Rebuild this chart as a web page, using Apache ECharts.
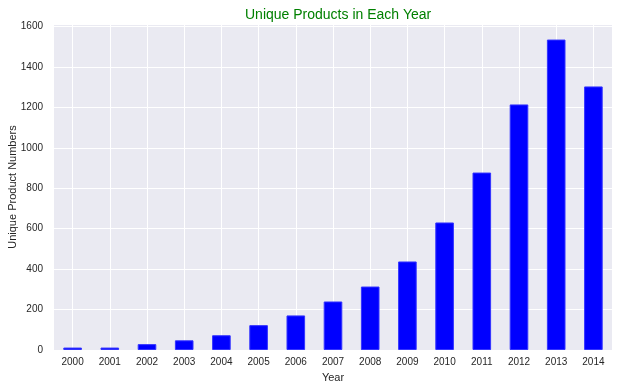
<!DOCTYPE html>
<html><head><meta charset="utf-8">
<script src="https://cdn.jsdelivr.net/npm/echarts@6/dist/echarts.min.js"></script>
<style>html,body{margin:0;padding:0;background:#fff}#c{width:622px;height:391px}</style>
</head><body><div id="c"></div>
<script>
var years = ['2000','2001','2002','2003','2004','2005','2006','2007','2008','2009','2010','2011','2012','2013','2014'];
var counts = [12, 12, 29, 48, 73, 123, 171, 240, 314, 438, 631, 878, 1215, 1536, 1304];
var yTicks = [0, 200, 400, 600, 800, 1000, 1200, 1400, 1600];

var chart = echarts.init(document.getElementById('c'), null, {renderer: 'canvas'});
var font = 'Liberation Sans, Arial, sans-serif';
chart.setOption({
  animation: false,
  backgroundColor: '#ffffff',
  title: {
    text: 'Unique Products in Each Year',
    left: 240, top: 3,
    textStyle: {color: '#008000', fontSize: 14, fontWeight: 'normal', fontFamily: font}
  },
  grid: {left: 54, right: 10, top: 24, bottom: 41, show: true, backgroundColor: '#EAEAF2', borderWidth: 0,
    containLabel: false, outerBoundsMode: 'none'},
  xAxis: {
    type: 'category', data: years,
    name: 'Year', nameLocation: 'middle', nameGap: 22, nameMoveOverlap: false,
    nameTextStyle: {color: '#262626', fontSize: 11, fontFamily: font},
    axisLine: {show: false}, axisTick: {show: false},
    axisLabel: {color: '#262626', fontSize: 10, fontFamily: font, margin: 7, interval: 0},
    splitLine: {show: false}
  },
  yAxis: {
    type: 'value', min: 0, max: 1613, interval: 200,
    name: 'Unique Product Numbers', nameLocation: 'middle', nameGap: 36, nameMoveOverlap: false,
    nameTextStyle: {color: '#262626', fontSize: 11, fontFamily: font},
    axisLine: {show: false}, axisTick: {show: false},
    axisLabel: {color: '#262626', fontSize: 10, fontFamily: font, margin: 11,
      formatter: function (v) { return yTicks.indexOf(v) >= 0 ? String(v) : ''; }},
    splitLine: {show: true, lineStyle: {color: '#ffffff', width: 1}}
  },
  series: [{
    type: 'bar', data: counts, barWidth: '50%', z: 3,
    itemStyle: {color: '#0000FF', borderColor: '#3333FF', borderWidth: 1},
    markLine: {
      silent: true, z: 1, symbol: ['none', 'none'], label: {show: false},
      lineStyle: {color: '#ffffff', width: 1, type: 'solid'},
      emphasis: {disabled: true},
      data: years.map(function (y) { return {xAxis: y}; })
    }
  }]
});
</script></body></html>
